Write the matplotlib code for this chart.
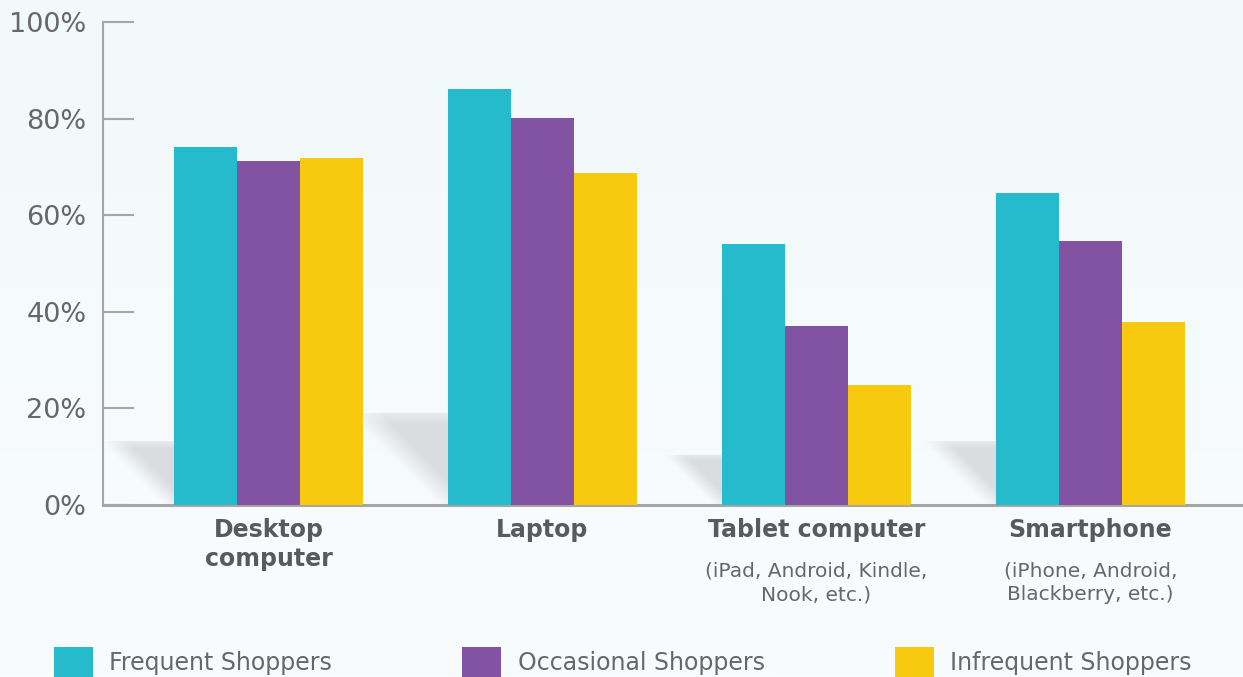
import numpy as np
import matplotlib.pyplot as plt
from matplotlib.patches import Patch, Polygon

devices = ["Desktop\ncomputer", "Laptop", "Tablet computer", "Smartphone"]
device_notes = ["", "", "(iPad, Android, Kindle,\nNook, etc.)", "(iPhone, Android,\nBlackberry, etc.)"]
series = ["Frequent Shoppers", "Occasional Shoppers", "Infrequent Shoppers"]
frequent = [74.1, 86.1, 54.0, 64.6]
occasional = [71.2, 80.1, 37.1, 54.7]
infrequent = [71.8, 68.7, 24.8, 37.9]
shadow_heights = [13.2, 19.0, 10.4, 13.2]   # soft grey shadows behind each group
yticks = [0, 20, 40, 60, 80, 100]

colors = ["#25BBCD", "#8153A2", "#F7CA10"]
grey = "#A6A6A6"
text_grey = "#676767"

fig = plt.figure(figsize=(12.43, 6.77), dpi=100)

# light background gradient
bg = fig.add_axes([0, 0, 1, 1], zorder=-10)
grad = np.linspace(0, 1, 256)[:, None]
top_c = np.array([0xF2, 0xF9, 0xFB]) / 255
bot_c = np.array([0xF9, 0xFC, 0xFE]) / 255
img = top_c * (1 - grad[..., None]) + bot_c * grad[..., None]
bg.imshow(np.repeat(img, 2, axis=1), aspect="auto", extent=[0, 1, 0, 1],
          interpolation="bilinear")
bg.axis("off")

ax = fig.add_axes([103 / 1243, 172 / 677, 1140 / 1243, 483 / 677])
ax.set_facecolor("none")

x = np.arange(len(devices))
w = 0.23
unit_px = 274.0  # pixels per group spacing
for i, vals in enumerate([frequent, occasional, infrequent]):
    ax.bar(x + (i - 1) * w, vals, width=w, color=colors[i], zorder=3, label=series[i])

# shadows left of each group
for xi, h in zip(x, shadow_heights):
    left_edge = xi - 1.5 * w
    h_px = h / 100 * 483
    bottom_off = 9 / unit_px
    top_off = (9 + 1.0 * h_px) / unit_px
    poly = Polygon([(left_edge - top_off, h), (left_edge, h), (left_edge, 0),
                    (left_edge - bottom_off, 0)], closed=True, facecolor="none",
                   edgecolor="none")
    ax.add_patch(poly)
    nx, ny = 120, 80
    u = np.linspace(0, 1, nx)[None, :]
    v = np.linspace(1, 0, ny)[:, None]  # 1 at top
    edge_u = (1 - v) * (1 - bottom_off / top_off)  # u of diagonal at this row
    d = np.clip((u - edge_u) / 0.35, 0, 1)
    topfade = np.clip(0.55 + (1 - v) * 4, 0, 1)
    rgba = np.zeros((ny, nx, 4))
    rgba[..., 0] = 0xD9 / 255
    rgba[..., 1] = 0xDC / 255
    rgba[..., 2] = 0xDF / 255
    rgba[..., 3] = d * topfade * 0.95
    im = ax.imshow(rgba, extent=[left_edge - top_off, left_edge, 0, h],
                   aspect="auto", zorder=2, interpolation="bilinear")
    im.set_clip_path(poly)

ax.set_xlim(-0.604, 3.557)
ax.set_ylim(0, 100)
ax.set_yticks(yticks)
ax.set_yticklabels([f"{t}%" for t in yticks], fontsize=19.5, color=text_grey)
ax.tick_params(axis="y", direction="in", length=22, width=1.5, color=grey, pad=12)
ax.set_xticks([])
for s in ["top", "right"]:
    ax.spines[s].set_visible(False)
ax.spines["left"].set_color(grey)
ax.spines["left"].set_linewidth(1.5)
ax.spines["bottom"].set_color(grey)
ax.spines["bottom"].set_linewidth(2.2)

for xi, name, note in zip(x, devices, device_notes):
    ax.annotate(name, xy=(xi, 0), xytext=(0, -9.5), textcoords="offset points",
                ha="center", va="top", fontsize=17, fontweight="bold",
                color="#5A5A5A", linespacing=1.25, annotation_clip=False)
    if note:
        ax.annotate(note, xy=(xi, 0), xytext=(0, -41), textcoords="offset points",
                    ha="center", va="top", fontsize=14.5, color=text_grey,
                    linespacing=1.3, annotation_clip=False)

handles = [Patch(facecolor=c, edgecolor="none") for c in colors]
fig.legend(handles, series, loc="lower left", bbox_to_anchor=(54 / 1243, 0),
           ncol=3, frameon=False, fontsize=17, labelcolor=text_grey,
           handlelength=1.65, handleheight=1.55, handletextpad=0.7,
           columnspacing=5.5, borderpad=0, borderaxespad=0)

fig.savefig("out.png", dpi=100)
